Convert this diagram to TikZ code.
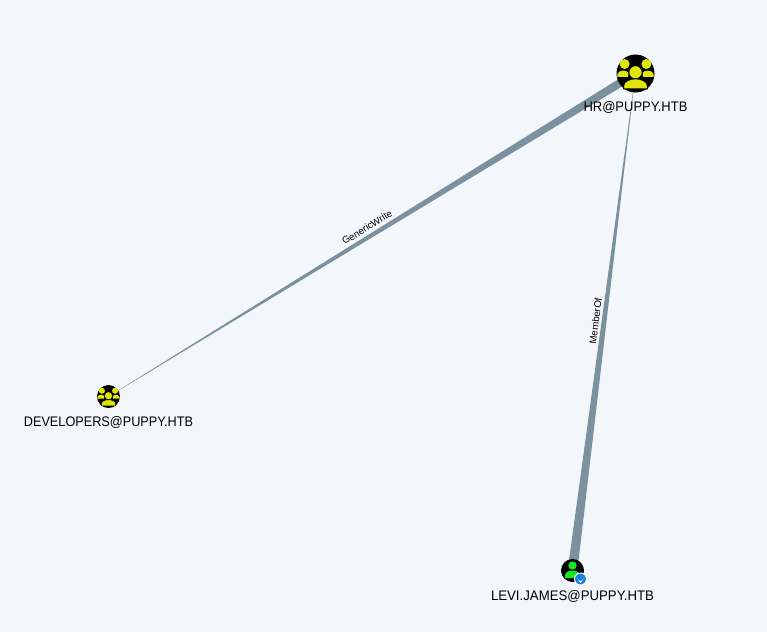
\documentclass[tikz,border=0pt]{standalone}
\usepackage{fontspec}
\usepackage{graphicx}
\setmainfont{Liberation Sans}
\usetikzlibrary{calc,backgrounds}
\definecolor{pagebg}{HTML}{F3F6FB}
\definecolor{edgecol}{HTML}{7C919E}
\definecolor{groupcol}{HTML}{DFE70A}
\definecolor{usercol}{HTML}{17E625}
\definecolor{badgecol}{HTML}{1A7FD8}
\tikzset{
  x=0.75pt,y=-0.75pt,
  graphnode/.style={circle,fill=black,inner sep=0pt,outer sep=0pt},
  biggroup/.style={graphnode,minimum size=28.5pt},
  smallnode/.style={graphnode,minimum size=17.25pt},
  nodelabel/.style={font=\fontsize{10.4pt}{12pt}\selectfont,text=black,inner sep=0pt},
  edgelabel/.style={font=\fontsize{7.3pt}{8pt}\selectfont,text=black,inner sep=0pt},
  edgeband/.style={fill=edgecol},
  pics/groupicon/.style={code={
    \fill[groupcol] (-10.9,-9.5) circle (5);
    \fill[groupcol] (10.9,-9.5) circle (5);
    \fill[groupcol] (-18.2,3.4) -- (-18.2,1) .. controls (-18.2,-1.4) and (-15,-2.9) .. (-12.5,-2.9) .. controls (-10,-2.9) and (-8,-2.2) .. (-7,-0.5) -- (-7.5,3.4) -- cycle;
    \fill[groupcol] (18.2,3.4) -- (18.2,1) .. controls (18.2,-1.4) and (15,-2.9) .. (12.5,-2.9) .. controls (10,-2.9) and (8,-2.2) .. (7,-0.5) -- (7.5,3.4) -- cycle;
    \fill[groupcol,draw=black,line width=#1] (0,-1.2) circle (6.7);
    \fill[groupcol,draw=black,line width=#1] (-11.8,15.4) -- (-11.8,12) .. controls (-11.8,8) and (-6,5.3) .. (0,5.3) .. controls (6,5.3) and (11.8,8) .. (11.8,12) -- (11.8,15.4) -- cycle;
  }}
}
\begin{document}
\begin{tikzpicture}
\useasboundingbox (0,0) rectangle (767,632);

\node[biggroup] (hr) at (635.5,73.5) {};
\node[smallnode] (dev) at (108.5,396.5) {};
\node[smallnode] (levi) at (572.5,570.5) {};

\begin{scope}[on background layer]
\fill[pagebg] (0,0) rectangle (767,632);
\fill[edgeband] ($(dev)+(0.05,0.07)$) -- ($(hr)+(2.2,3.6)$) -- ($(hr)+(-2.2,-3.6)$) -- ($(dev)+(-0.05,-0.07)$) -- cycle;
\fill[edgeband] ($(hr)+(0.03,0)$) -- ($(levi)+(4.8,0.6)$) -- ($(levi)+(-4.8,-0.6)$) -- ($(hr)+(-0.03,0)$) -- cycle;
\end{scope}

\path (hr) pic {groupicon=0.7pt};
\path (dev) pic[scale=0.605] {groupicon=0.4pt};

% user icon
\fill[usercol] ($(levi)+(0,-5)$) circle (4.2);
\fill[usercol] ($(levi)+(-7.5,7.5)$) -- ($(levi)+(-7.5,5)$) .. controls ($(levi)+(-7.5,1.6)$) and ($(levi)+(-3.5,0)$) .. ($(levi)+(0,0)$) .. controls ($(levi)+(3.5,0)$) and ($(levi)+(7,1.6)$) .. ($(levi)+(7,5)$) -- ($(levi)+(7,7.5)$) -- cycle;
% badge
\node[circle,fill=badgecol,draw=white,line width=0.7pt,minimum size=9pt,inner sep=0pt] (badge) at (580.5,579) {};
\fill[white] ($(badge)+(0,4.1)$) .. controls ($(badge)+(-1.5,1.4)$) and ($(badge)+(-3.2,0.2)$) .. ($(badge)+(-3.2,-1.2)$) arc[start angle=180,end angle=0,radius=3.2] .. controls ($(badge)+(3.2,0.2)$) and ($(badge)+(1.5,1.4)$) .. ($(badge)+(0,4.1)$) -- cycle;
\fill[badgecol] ($(badge)+(0,-1.2)$) circle (0.9);

\node[nodelabel] (hrlabel) at (635.5,107) {\scalebox{0.937}[1]{HR@PUPPY.HTB}};
\node[nodelabel] (devlabel) at (108.5,422) {\scalebox{0.915}[1]{DEVELOPERS@PUPPY.HTB}};
\node[nodelabel] (levilabel) at (572.5,596) {\scalebox{0.953}[1]{LEVI.JAMES@PUPPY.HTB}};

\node[edgelabel,rotate=31.5] (gw) at (367,227.2) {GenericWrite};
\node[edgelabel,rotate=82.8] (mo) at (595.6,321) {MemberOf};
\end{tikzpicture}
\end{document}
